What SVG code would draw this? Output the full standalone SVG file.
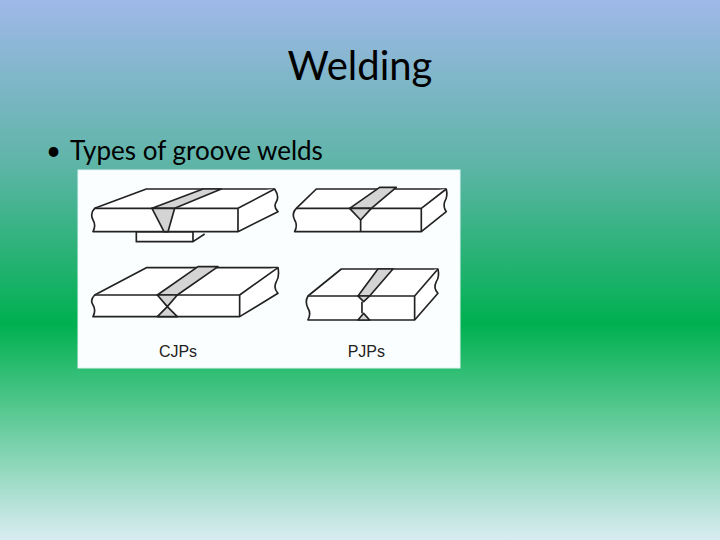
<svg xmlns="http://www.w3.org/2000/svg" width="720" height="540" viewBox="0 0 720 540">
<defs>
<linearGradient id="bg" x1="0" y1="0" x2="0" y2="1">
<stop offset="0" stop-color="#9fb8e8"/>
<stop offset="0.3" stop-color="#5fb5a8"/>
<stop offset="0.6" stop-color="#00b050"/>
<stop offset="1" stop-color="#d9ecf2"/>
</linearGradient>
<style>
.p{fill:#fff;stroke:#222;stroke-width:5;stroke-linejoin:round}
.w{fill:#d4d4d4;stroke:#222;stroke-width:5;stroke-linejoin:round}
.t{font-family:Lato,'Open Sans',sans-serif;fill:#000}
.l{font-family:'Liberation Sans',Arial,sans-serif;font-size:48px;fill:#222}
</style>
</defs>
<rect width="720" height="540" fill="url(#bg)"/>
<text class="t" x="360" y="80" font-size="40" text-anchor="middle">Welding</text>
<text class="t" x="46" y="160" font-size="26">•</text>
<text class="t" x="70" y="160" font-size="26">Types of groove welds</text>
<rect x="78" y="170" width="382" height="198" fill="#fbfefe" stroke="#dff5f5"/>
<g transform="translate(78,170) scale(0.3333)">
<g id="plate1">
<path class="p" d="M175 185 H345 V215 H175 Z M345 215 L380 192"/>
<path class="p" d="M50 115 L205 57 H590 Q605 80 595 95 Q585 110 600 125 L480 185 H45 Q55 165 45 150 Q35 130 50 115 Z"/>
<path class="p" d="M50 115 H480 L590 57 M480 115 V185" fill="none"/>
<path class="w" d="M222 115 L375 57 H430 L290 115 Z"/>
<path class="w" d="M222 115 H290 L270 185 H258 Z"/>
</g>
<g id="plate2">
<path class="p" d="M655 115 L715 57 H1105 Q1110 80 1100 95 Q1095 110 1105 125 L1030 185 H650 Q660 165 650 150 Q640 130 655 115 Z"/>
<path class="p" d="M655 115 H1030 L1105 57 M1030 115 V185 M848 150 V185" fill="none"/>
<path class="w" d="M815 115 L905 52 H955 L880 115 Z"/>
<path class="w" d="M815 115 H880 L848 150 Z"/>
</g>
<g id="plate3">
<path class="p" d="M50 375 L205 293 H600 Q605 320 595 335 Q585 355 600 370 L485 440 H45 Q55 420 45 405 Q35 390 50 375 Z"/>
<path class="p" d="M50 375 H485 L600 293 M485 375 V440" fill="none"/>
<path class="w" d="M238 375 L360 290 H420 L298 375 Z"/>
<path class="w" d="M238 375 H298 L268 410 Z M238 440 H298 L268 410 Z"/>
</g>
<g id="plate4">
<path class="p" d="M690 378 L790 297 H1080 Q1085 320 1075 335 Q1065 355 1080 370 L1010 450 H690 Q700 430 690 415 Q680 395 690 378 Z"/>
<path class="p" d="M690 378 H1010 L1080 297 M1010 378 V450 M852 395 V430" fill="none"/>
<path class="w" d="M840 378 L900 297 H945 L875 378 Z"/>
<path class="w" d="M840 378 H875 L857 395 Z M840 450 H875 L857 430 Z"/>
</g>
<text class="l" x="300" y="562" text-anchor="middle">CJPs</text>
<text class="l" x="865" y="562" text-anchor="middle">PJPs</text>
</g>
</svg>
